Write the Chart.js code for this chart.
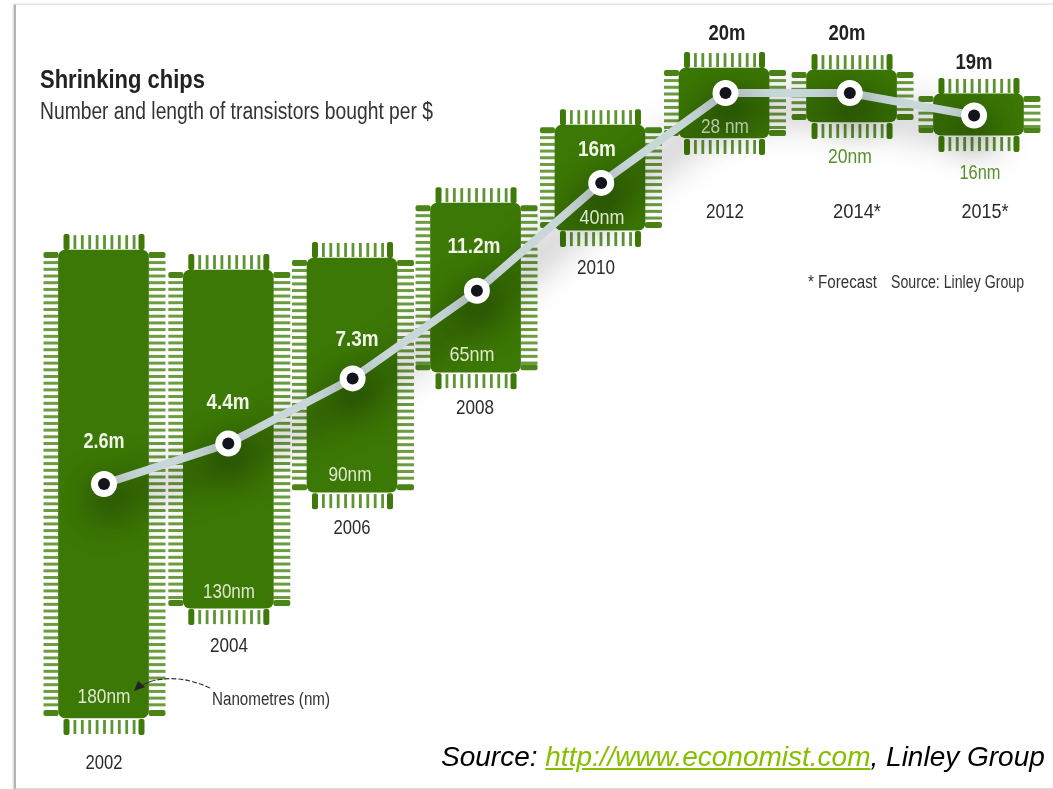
<!DOCTYPE html>
<html>
<head>
<meta charset="utf-8">
<title>Shrinking chips</title>
<script src="https://cdn.jsdelivr.net/npm/chart.js@4"></script>
<style>
  html, body { margin: 0; padding: 0; background: #fff; }
  #wrap { position: relative; width: 1053px; height: 789px; overflow: hidden; }
  #frame { position: absolute; left: 14px; top: 4px; width: 1100px; height: 783px;
           border-left: 2px solid #b4b4b4; border-top: 1px solid #e8e8e8; border-bottom: 2px solid #dcdcdc;
           box-shadow: -1px 0 2px rgba(0,0,0,.18); }
  #chart { position: absolute; left: 0; top: 0; filter: blur(0.55px); }
  #source { position: absolute; left: 441px; top: 741px; white-space: nowrap;
            font: italic 28px "Liberation Sans", Arial, sans-serif; color: #000; }
  #source a { color: #86bf00; text-decoration: underline; }
</style>
</head>
<body>
<div id="wrap">
  <div id="frame"></div>
  <canvas id="chart" width="1053" height="789"></canvas>
  <div id="source">Source: <a href="http://www.economist.com">http://www.economist.com</a>, Linley Group</div>
</div>
<script>
// chart values
const years = ['2002', '2004', '2006', '2008', '2010', '2012', '2014*', '2015*'];
const transistors = [2.6, 4.4, 7.3, 11.2, 16, 20, 20, 19];
const nanometres = ['180nm', '130nm', '90nm', '65nm', '40nm', '28 nm', '20nm', '16nm'];
const chipHigh = [13.01, 12.12, 12.66, 15.10, 18.57, 21.11, 21.02, 19.96];
const chipLow = [-7.81, -2.92, 2.24, 7.58, 13.90, 18.00, 18.71, 18.13];

const FONT = '"Liberation Sans", sans-serif';
const GREEN = '#3c7805';

// the chips don't sit exactly under their points (in x-axis slots)
const chipShift = [-0.004, 0, -0.005, -0.011, -0.01, -0.012, 0.014, 0.035];

// text layout: centre x, centre y, squeezed width (the original face is condensed)
const valuePos = [[104,442,41],[228,403,43],[357,340,43],[474,247,53],[597,150,38],[727,34,37],[847,34,37],[974,63,37]];
const nmPos = [[104,697,53],[229,592,52],[350,475,43],[472,355,45],[602,218,45],[725,127,48],[850,157,44],[980,173,41]];
const yearPos = [[104,763,37],[229,646,38],[352,528,37],[475,408,38],[596,268,38],[725,212,38],[857,212,48],[985,212,47]];

const slots = years.map((_, i) => i);

const roundBox = (ctx, x, y, w, h, r) => {
  ctx.beginPath();
  ctx.roundRect(x, y, w, h, r);
  ctx.fill();
};

// pins round each chip, taken from the bar element's geometry
const chipPins = {
  id: 'chipPins',
  beforeDatasetsDraw(chart) {
    const ctx = chart.ctx;
    const bars = chart.getDatasetMeta(2).data;
    ctx.save();
    bars.forEach((bar) => {
      const { x, y, base, width } = bar.getProps(['x', 'y', 'base', 'width'], true);
      const left = x - width / 2, right = x + width / 2;
      const top = Math.min(y, base), bottom = Math.max(y, base);

      // side rows
      [[left - 15, 15], [right, 17]].forEach(([sx, sw]) => {
        ctx.fillStyle = '#4a8416';
        roundBox(ctx, sx, top + 2, sw, 6, 2);
        roundBox(ctx, sx, bottom - 8, sw, 6, 2);
        ctx.fillStyle = '#6b9c3f';
        for (let py = top + 11; py < bottom - 10; py += 6.7) ctx.fillRect(sx, py, sw, 3);
      });

      // top and bottom rows
      [[top - 16, 15], [bottom + 1, 15]].forEach(([sy, sh]) => {
        ctx.fillStyle = '#3f7a08';
        roundBox(ctx, left + 5, sy, 6, sh + 1, 2);
        roundBox(ctx, left + 80, sy, 6, sh + 1, 2);
        ctx.fillStyle = '#5f9433';
        for (let px = left + 15; px < left + 78; px += 7.4) ctx.fillRect(px, sy + 1, 2.8, sh - 1);
      });
    });
    ctx.restore();
  },
};

// soft shadow under the line only
const lineShadow = {
  id: 'lineShadow',
  beforeDatasetDraw(chart, args) {
    if (args.index !== 1) return;
    const ctx = chart.ctx;
    ctx.save();
    ctx.shadowColor = 'rgba(0,0,0,0.75)';
    ctx.shadowBlur = 38;
    ctx.shadowOffsetX = 3;
    ctx.shadowOffsetY = 16;
  },
  afterDatasetDraw(chart, args) {
    if (args.index === 1) chart.ctx.restore();
  },
};

const drawText = (ctx, text, x, y, font, color, align, width) => {
  ctx.font = font;
  ctx.fillStyle = color;
  ctx.textAlign = align || 'center';
  ctx.textBaseline = 'middle';
  ctx.fillText(text, x, y, width);
};

const chipLabels = {
  id: 'chipLabels',
  afterDatasetsDraw(chart) {
    const ctx = chart.ctx;
    ctx.save();

    drawText(ctx, 'Shrinking chips', 40, 81, `bold 26px ${FONT}`, '#222', 'left', 165);
    drawText(ctx, 'Number and length of transistors bought per $', 40, 113, `23px ${FONT}`, '#333', 'left', 393);

    transistors.forEach((v, i) => {
      const [x, y, w] = valuePos[i];
      drawText(ctx, v + 'm', x, y, `bold 22px ${FONT}`, i < 5 ? '#f2f6ea' : '#222', 'center', w);
    });
    nanometres.forEach((t, i) => {
      const [x, y, w] = nmPos[i];
      const color = i < 5 ? '#dfe9cf' : i === 5 ? '#b9c9a8' : '#55902a';
      drawText(ctx, t, x, y, `21px ${FONT}`, color, 'center', w);
    });
    years.forEach((t, i) => {
      const [x, y, w] = yearPos[i];
      drawText(ctx, t, x, y, `21px ${FONT}`, '#2a2a2a', 'center', w);
    });

    drawText(ctx, '* Forecast', 808, 283, `18px ${FONT}`, '#333', 'left', 69);
    drawText(ctx, 'Source: Linley Group', 891, 283, `18px ${FONT}`, '#333', 'left', 133);
    drawText(ctx, 'Nanometres (nm)', 212, 700, `18px ${FONT}`, '#333', 'left', 118);

    // callout to the 180nm chip
    ctx.strokeStyle = '#333';
    ctx.lineWidth = 1.2;
    ctx.setLineDash([5, 2]);
    ctx.beginPath();
    ctx.moveTo(210, 688);
    ctx.quadraticCurveTo(180, 674, 152, 681);
    ctx.stroke();
    ctx.setLineDash([]);
    ctx.beginPath();
    ctx.moveTo(152, 681);
    ctx.quadraticCurveTo(146, 683, 139, 687);
    ctx.stroke();
    ctx.fillStyle = '#222';
    ctx.beginPath();
    ctx.moveTo(134, 691);
    ctx.lineTo(145, 687);
    ctx.lineTo(138, 681);
    ctx.closePath();
    ctx.fill();

    ctx.restore();
  },
};

new Chart(document.getElementById('chart'), {
  data: {
    labels: years,
    datasets: [
      {
        type: 'line',
        label: 'dots',
        data: slots.map((s, i) => ({ x: s, y: transistors[i] })),
        showLine: false,
        pointRadius: 6,
        pointBackgroundColor: '#14141c',
        pointBorderWidth: 0,
        order: 0,
      },
      {
        type: 'line',
        label: 'Transistors per $ (m)',
        data: slots.map((s, i) => ({ x: s, y: transistors[i] })),
        borderColor: '#c8d8d8',
        borderWidth: 8,
        tension: 0,
        pointRadius: 13,
        pointBackgroundColor: '#fff',
        pointBorderWidth: 0,
        order: 1,
      },
      {
        type: 'bar',
        label: 'Chip',
        data: slots.map((s, i) => ({ x: s + chipShift[i], y: [chipLow[i], chipHigh[i]] })),
        backgroundColor: GREEN,
        barThickness: 90,
        grouped: false,
        borderSkipped: false,
        borderRadius: 7,
        order: 2,
      },
    ],
  },
  options: {
    responsive: false,
    animation: false,
    layout: { padding: 0, autoPadding: false },
    plugins: { legend: { display: false }, tooltip: { enabled: false } },
    scales: {
      x: { type: 'linear', display: false, offset: false, min: -0.8367, max: 7.6347 },
      y: { type: 'linear', display: false, min: -10.97, max: 24.14 },
    },
  },
  plugins: [chipPins, lineShadow, chipLabels],
});
</script>
</body>
</html>
